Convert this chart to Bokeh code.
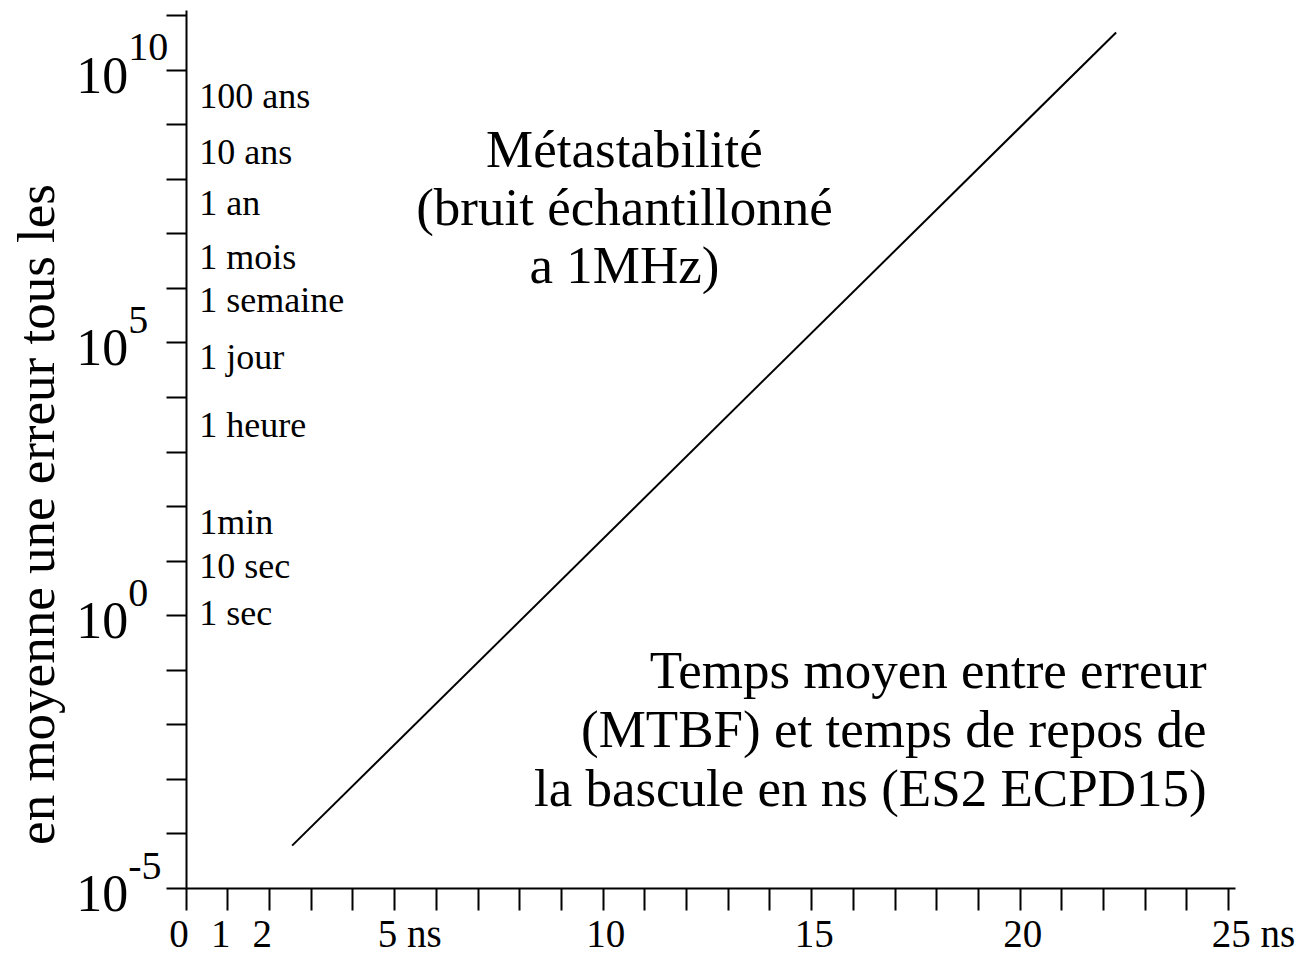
import numpy as np
from bokeh.plotting import figure
from bokeh.models import Label, FixedTicker, Range1d, LinearAxis, LogAxis
from bokeh.embed import file_html
from bokeh.resources import INLINE

# ---------------- data ----------------
x_ticks = list(range(0, 26))                      # a tick every ns
x_label_values = [0, 1, 2, 5, 10, 15, 20, 25]
x_label_texts = ["0", "1", "2", "5 ns", "10", "15", "20", "25 ns"]

y_ticks = [1e-5, 1e-4, 1e-3, 1e-2, 1e-1, 1e0, 1e1, 1e2, 1e3, 1e4,
           1e5, 1e6, 1e7, 1e8, 1e9, 1e10, 1e11]
y_label_values = [1e10, 1e5, 1e0, 1e-5]
y_label_exponents = ["10", "5", "0", "-5"]

duration_texts = ["100 ans", "10 ans", "1 an", "1 mois", "1 semaine",
                  "1 jour", "1 heure", "1min", "10 sec", "1 sec"]
duration_values = [3.4e9, 3.1e8, 3.6e7, 3.8e6, 6.0e5,
                   5.6e4, 3.1e3, 53, 8.0, 1.1]

# MTBF line (resolution time in ns -> mean time between errors in s)
line_t = [2.54, 22.30]
line_mtbf = [6.1e-5, 4.9e10]

title_lines = ["Métastabilité", "(bruit échantillonné", "a 1MHz)"]
caption_lines = ["Temps moyen entre erreur", "(MTBF) et temps de repos de",
                 "la bascule en ns (ES2 ECPD15)"]
y_title = "en moyenne une erreur tous les"

FONT = "Liberation Serif"

# ---------------- figure ----------------
p = figure(width=1312, height=956, y_axis_type="log",
           x_axis_location=None, y_axis_location=None,
           x_range=Range1d(-4.4532, 27.0096),
           y_range=Range1d(10 ** -6.2463, 10 ** 11.2757),
           output_backend="svg", toolbar_location=None, min_border=0)
p.outline_line_color = None
p.grid.visible = False
p.background_fill_color = "white"
p.border_fill_color = "white"

xaxis = LinearAxis(fixed_location=1e-5, bounds=(-0.001, 25.16))
yaxis = LogAxis(fixed_location=0, bounds=(0.999e-5, 10 ** 11.09))
for ax, ticks, tick_len in ((xaxis, x_ticks, 22), (yaxis, y_ticks, 20)):
    ax.ticker = FixedTicker(ticks=ticks)
    ax.major_tick_out = tick_len
    ax.major_tick_in = 0
    ax.minor_tick_out = 0
    ax.minor_tick_in = 0
    ax.axis_line_width = 2
    ax.major_tick_line_width = 2
    ax.axis_line_color = "black"
    ax.major_tick_line_color = "black"
    ax.major_label_text_color = None
    ax.major_label_text_font_size = "0px"
p.add_layout(xaxis, "below")
p.add_layout(yaxis, "left")

p.line(line_t, line_mtbf, line_color="black", line_width=2)


def lab(x, y, text, size, align="left", dx=0, dy=0, angle=0.0):
    p.add_layout(Label(x=x, y=y, x_offset=dx, y_offset=dy, text=text,
                       angle=angle, text_align=align, text_baseline="middle",
                       text_font=FONT, text_font_size=size,
                       text_color="black"))


# x tick labels
for v, t in zip(x_label_values, x_label_texts):
    lab(v, 1e-5, t, "39px", "left", dx=-17, dy=-45)

# y tick labels: 10 with superscript exponent
for v, e in zip(y_label_values, y_label_exponents):
    lab(0, v, "10", "52px", "right", dx=-58, dy=-5)
    lab(0, v, e, "40px", "left", dx=-58, dy=23)

# duration labels beside the y axis
for v, t in zip(duration_values, duration_texts):
    lab(0, v, t, "36px", "left", dx=13)

# y axis title
lab(0, 10 ** 1.855, y_title, "53px", "center", dx=-150, angle=np.pi / 2)

# centre text block
for i, t in enumerate(title_lines):
    lab(10.51, 10 ** 8.545, t, "53px", "center", dy=-58 * i)

# lower right caption
for i, t in enumerate(caption_lines):
    lab(24.47, 10 ** -1.0, t, "53px", "right", dy=-59 * i)

open("out.html", "w").write(file_html(p, INLINE))
